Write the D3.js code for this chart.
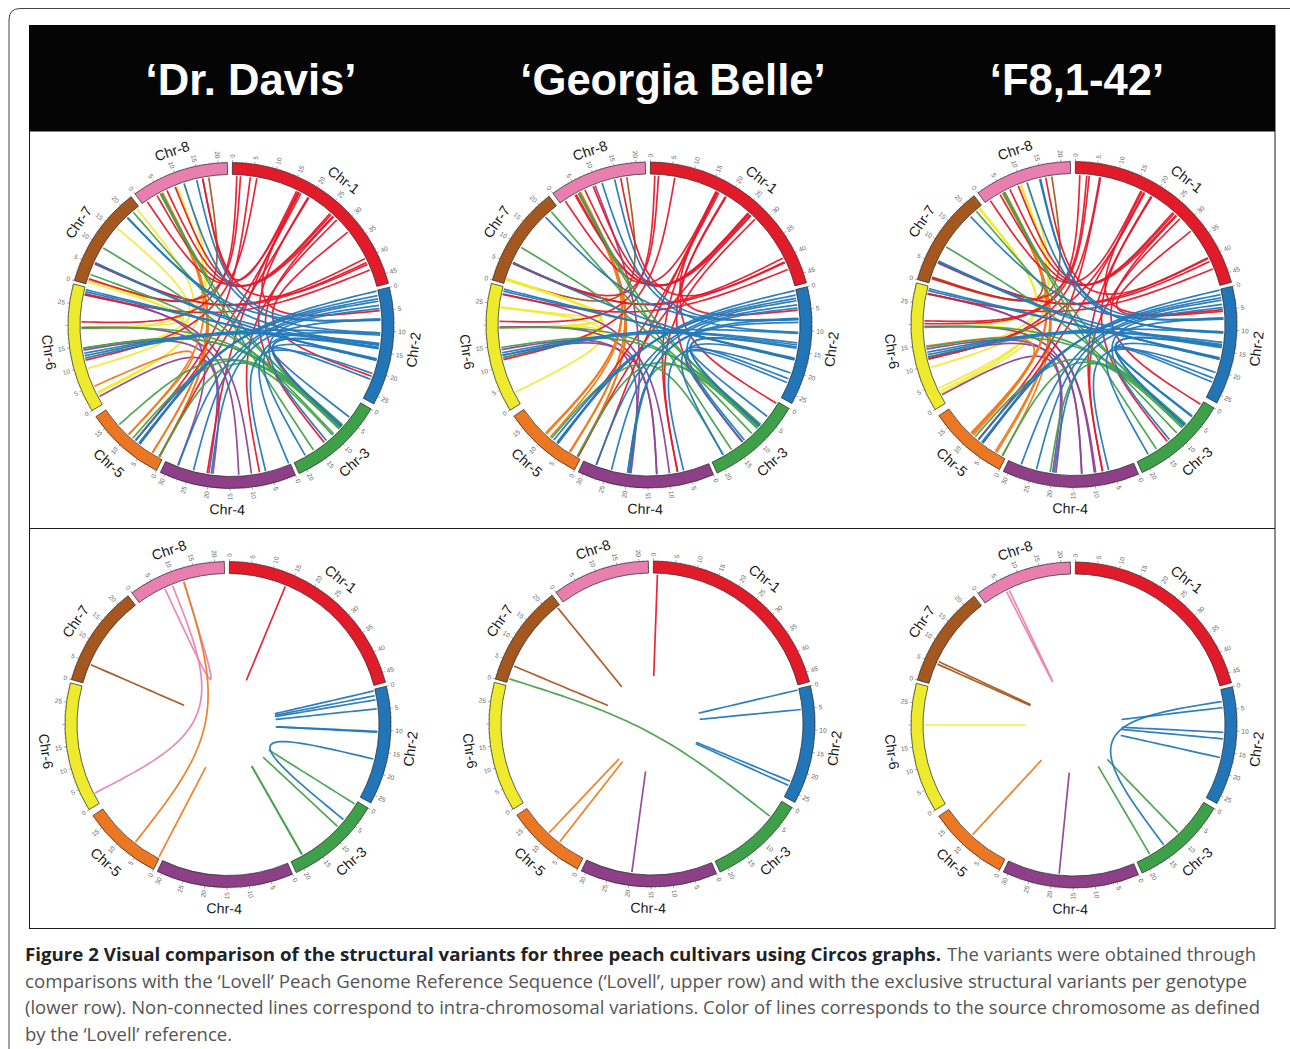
<!DOCTYPE html>
<html><head><meta charset="utf-8">
<script src="https://cdn.jsdelivr.net/npm/d3@7/dist/d3.min.js"></script>
<style>html,body{margin:0;padding:0;background:#fff}svg{display:block}</style>
</head><body><svg id="fig" width="1290" height="1049"></svg>
<script>
const chrNames=["Chr-1","Chr-2","Chr-3","Chr-4","Chr-5","Chr-6","Chr-7","Chr-8"];
const chrLengths=[47.3,26.9,21.9,31.1,18.3,29.4,23,22.1];
const chrStartDeg=[0.5,76.4,120.8,156.7,207.2,238.5,286,323.9];
const chrEndDeg=[75,118.8,155.3,205.7,236,284.8,322.2,358.7];
const chrColors=["#e21b2b","#2276b7","#3fa04a","#8d3f88","#ec7723","#eeea2d","#a4581f","#e97fae"];
const linkColors=["#e41b2d","#2479ba","#45a24c","#8f4396","#ef7a1e","#f2ea30","#a9561c","#ea83b0"];
const tickLabels=[[0,5,10,15,20,25,30,35,40,45],[0,5,10,15,20,25],[0,5,10,15,20],[0,5,10,15,20,25,30],[0,5,10,15],[0,5,10,15,25],[0,5,10,15,20],[0,5,10,15,20]];
const drawOrder=[4,6,5,2,3,1,0,0];

const sharedLinks=[
[1,1.1,6,20.9],[1,6,6,11.5],[1,16.6,8,1.3],[1,17.4,5,6.6],[1,40,7,5.5],[1,41,7,5.3],[1,26,8,4.1],[1,26.4,8,6.8],[1,27,8,9],[1,28.3,4,7.8],[1,19.4,3,13.1],[1,16.9,2,5],[1,43,6,27.5],
[2,0.2,5,6.6],[2,1.3,5,6.9],[2,2.1,5,7.9],[2,2.7,4,27.9],[2,3.7,4,24],[2,7,7,19.2],[2,7.3,8,14.5],[2,10.4,8,11.3],[2,10.7,6,12.6],[2,13,6,13.2],[2,13.5,6,12],[2,14,3,7.4],[2,14.3,3,7.2],[2,16.8,6,28.8],[2,17,6,28.3],[2,17.2,7,5.5],[2,17.1,3,18.7],[2,22,3,4.4],[2,20.5,4,6.3],[2,7.2,4,19.6],[2,4.5,3,12.4],
[3,7.2,7,21.1],[3,10,7,9.7],[3,16.3,8,5],[3,7.4,6,19.3],[3,6.9,6,14.5],[3,7.8,8,5.3],[3,8.2,5,0.9],
[4,12.9,6,19.5],[4,9.8,6,27.6],[4,19.2,6,14],
[5,10.2,8,5.1],[5,2.9,8,5.3],[5,0.9,8,5.2],
[7,1.2,8,17.5]];
const extraDrDavis=[
[1,2,7,1.4],[1,4.4,5,8],[1,16.9,4,20.6],[1,32.3,2,21.2],[1,27.2,3,7.6],[1,16.2,8,16],[1,41.5,8,16],[1,19.6,5,0.9],
[2,11,4,0.4],[2,14,7,5.6],[2,13.3,7,19.1],
[3,10.4,5,13.5],[3,7.6,5,8.8],[3,8,7,2.5],[3,7.2,6,14.4],
[4,20.2,6,2],[4,28,6,27.8],
[5,10.1,6,4.8],[5,2.8,8,5.6],[5,1,8,5.4],
[6,9.4,7,15.6],[6,12.5,7,22.3],[6,19.4,8,11.3],[6,3.2,7,1.3],[6,2.8,8,9.5],[6,19.6,7,0.6]];
const extraGeorgiaBelle=[
[1,16.8,4,27.9],[1,19.2,3,0.5],[1,26.8,5,0.7],[1,2,7,5.4],[1,26.2,8,4.4],[1,17,4,7.8],[1,41.2,8,16],
[2,23,3,13],[2,8,4,20],
[3,18.7,5,8.6],[3,7.8,4,20],
[4,19.5,8,9.5],[4,12.9,6,12.6],
[5,10.5,8,5.5],[5,3.1,8,5.4],[5,0.7,8,5.6],[5,9,8,5.1],
[6,19.4,7,0.9],[6,19.3,7,1.1],[6,24.4,7,1],[6,12.4,7,1.2],[6,11.6,7,1.3],[6,3,6,24.2],[6,19.5,6,12]];
const extraF8=[
[1,2.8,7,1.4],[1,3.4,6,20.2],[1,6.2,5,8],[1,32.3,2,5.4],[1,40.2,8,16],[1,27.2,3,0.9],[1,19.6,4,7.8],[1,17.6,6,11.6],
[2,10.6,8,14.7],[2,13.8,7,5.8],[2,23,3,4.6],
[3,7,4,20.6],[3,7.6,5,9],
[4,12.9,6,12],[4,20,6,2.2],[4,9.5,6,27.5],
[5,10.4,6,14.7],[5,10,8,5],[5,9.6,8,5.4],[5,2.5,8,4.8],
[6,12.5,7,22.3],[6,9.4,7,22],[6,19.4,8,11.3],[6,3.2,8,9.6],[6,4,8,9.8],[6,19.6,6,2.6],
[7,1.6,8,5]];
const exclusiveDrDavis=[[1,14,1,14],[8,7.1,8,12],[8,9.1,6,2.7],[5,7,8,12],[5,0.2,5,0.2],[7,4.8,7,4.8],[2,0.4,2,0.4],[2,1.6,2,1.6],[2,2.6,2,2.6],[2,4.8,2,4.8],[2,10.3,2,10.3],[2,10.5,2,10.5],[2,17.1,3,5.5],[3,0.8,3,0.8],[3,7.7,3,7.7],[3,18.7,3,18.7],[3,18.8,3,18.8]];
const exclusiveGeorgiaBelle=[[1,1,1,1],[7,22.2,7,22.2],[7,4.3,7,4.3],[3,4.6,7,1],[2,0.3,2,0.3],[2,5.1,2,5.1],[2,22.9,2,22.9],[2,24,2,24],[5,10.3,5,10.3],[5,6.9,5,6.9],[4,19.7,4,19.7]];
const exclusiveF8=[[8,5.9,8,6.6],[7,5.8,7,5.8],[7,5.1,7,5.1],[6,20,6,20],[5,9.9,5,9.9],[4,18.4,4,18.4],[2,2.9,3,14.2],[2,4.4,2,4.4],[2,10.4,2,10.4],[2,12,2,12],[2,16.6,2,16.6],[3,9.6,3,9.6],[3,18.3,3,18.3]];

const titles=["‘Dr. Davis’","‘Georgia Belle’","‘F8,1-42’"];
const titleX=[251,673,1077];
const panels=[
 {cx:231,cy:325.5,links:sharedLinks.concat(extraDrDavis)},
 {cx:649,cy:325,links:sharedLinks.concat(extraGeorgiaBelle)},
 {cx:1074,cy:324.5,links:sharedLinks.concat(extraF8)},
 {cx:228,cy:724.5,links:exclusiveDrDavis},
 {cx:652,cy:724,links:exclusiveGeorgiaBelle},
 {cx:1074,cy:725,links:exclusiveF8}];
const captionLines=[
 [{t:"Figure 2 Visual comparison of the structural variants for three peach cultivars using Circos graphs.",b:1,x:25,w:916},{t:"The variants were obtained through",x:947,w:309}],
 [{t:"comparisons with the ‘Lovell’ Peach Genome Reference Sequence (‘Lovell’, upper row) and with the exclusive structural variants per genotype",x:25,w:1222}],
 [{t:"(lower row). Non-connected lines correspond to intra-chromosomal variations. Color of lines corresponds to the source chromosome as defined",x:25,w:1235}],
 [{t:"by the ‘Lovell’ reference.",x:25,w:207}]];
const captionBase=[960.5,987.5,1014,1040.5];

const svg=d3.select("#fig");
const rOuter=163,rInner=151,rLink=149.5;
const rad=d=>d*Math.PI/180;
const scales=chrLengths.map((len,i)=>d3.scaleLinear().domain([0,len]).range([chrStartDeg[i],chrEndDeg[i]]));
const arc=d3.arc().innerRadius(rInner).outerRadius(rOuter);
const polar=(deg,r)=>[r*Math.sin(rad(deg)),-r*Math.cos(rad(deg))];
const line=d3.line().curve(d3.curveLinear);
const crestRadius=rLink*0.4;
function linkPath(l){
 const a=scales[l[0]-1](l[1]),b=scales[l[2]-1](l[3]);
 const p=[polar(a,rLink),polar(a,crestRadius),[0,0],polar(b,crestRadius),polar(b,rLink)];
 const pts=d3.range(0,1.0001,1/48).map(t=>{
   const u=1-t,w=[u*u*u*u,4*u*u*u*t,6*u*u*t*t,4*u*t*t*t,t*t*t*t];
   return [d3.sum(p,(q,i)=>q[0]*w[i]),d3.sum(p,(q,i)=>q[1]*w[i])];
 });
 return line(pts);
}
svg.append("path").attr("d","M1290,8.5H20Q9,8.5 9,20V1049").attr("fill","none").attr("stroke","#444").attr("stroke-width",1);
svg.append("rect").attr("x",29.5).attr("y",25.5).attr("width",1245.5).attr("height",903).attr("fill","#fff").attr("stroke","#1a1a1a").attr("stroke-width",1);
svg.append("rect").attr("x",29).attr("y",25).attr("width",1246).attr("height",106.5).attr("fill","#050505");
svg.append("line").attr("x1",29.5).attr("x2",1275).attr("y1",528.5).attr("y2",528.5).attr("stroke","#1a1a1a");
svg.selectAll("text.title").data(titles).join("text").attr("class","title")
 .attr("x",(d,i)=>titleX[i]).attr("y",95).attr("text-anchor","middle").attr("fill","#fff")
 .attr("font-family","Liberation Sans").attr("font-weight","bold").attr("font-size",43.6).text(d=>d);

panels.forEach(pn=>{
 const g=svg.append("g").attr("transform",`translate(${pn.cx},${pn.cy})`);
 const sorted=pn.links.slice().sort((x,y)=>drawOrder[x[0]-1]-drawOrder[y[0]-1]);
 g.append("g").selectAll("path").data(sorted).join("path").attr("d",linkPath)
  .attr("fill","none").attr("stroke",d=>linkColors[d[0]-1]).attr("stroke-width",1.7).attr("stroke-linejoin","round").attr("stroke-opacity",0.95);
 chrNames.forEach((name,i)=>{
  g.append("path").attr("d",arc({startAngle:rad(chrStartDeg[i]),endAngle:rad(chrEndDeg[i])}))
   .attr("fill",chrColors[i]).attr("stroke","#222").attr("stroke-width",0.7);
  const sc=scales[i];
  const minor=d3.range(0,chrLengths[i]+0.001,1);
  g.append("g").selectAll("line").data(minor).join("line")
   .attr("x1",d=>polar(sc(d),rOuter)[0]).attr("y1",d=>polar(sc(d),rOuter)[1])
   .attr("x2",d=>polar(sc(d),rOuter+(d%5===0?2.5:1.3))[0]).attr("y2",d=>polar(sc(d),rOuter+(d%5===0?2.5:1.3))[1])
   .attr("stroke","#666").attr("stroke-width",d=>d%5===0?0.6:0.35);
  g.append("g").selectAll("text").data(tickLabels[i]).join("text")
   .attr("transform",d=>{const t=sc(d),p=polar(t,167.5);return `translate(${p[0]},${p[1]}) rotate(${t<180?t-90:t+90})`;})
   .attr("text-anchor",d=>sc(d)<180?"start":"end").attr("dy","0.35em").attr("font-family","Liberation Sans").attr("font-size",6.5).attr("fill","#666").text(d=>d);
  const mid=(chrStartDeg[i]+chrEndDeg[i])/2,lp=polar(mid,184);
  const rot=(mid>90&&mid<270)?mid-180:mid;
  g.append("text").attr("transform",`translate(${lp[0]},${lp[1]}) rotate(${rot})`)
   .attr("text-anchor","middle").attr("dy","0.35em").attr("font-family","Liberation Sans").attr("font-size",14.2).attr("fill","#1a1a1a").text(name);
 });
});
captionLines.forEach((parts,i)=>{
 parts.forEach(p=>{
  svg.append("text").attr("x",p.x).attr("y",captionBase[i]).attr("font-family","Open Sans")
   .attr("font-size",18).attr("font-weight",p.b?700:400).attr("fill",p.b?"#222":"#555")
   .attr("textLength",p.w).attr("lengthAdjust","spacingAndGlyphs").text(p.t);
 });
});
</script></body></html>
